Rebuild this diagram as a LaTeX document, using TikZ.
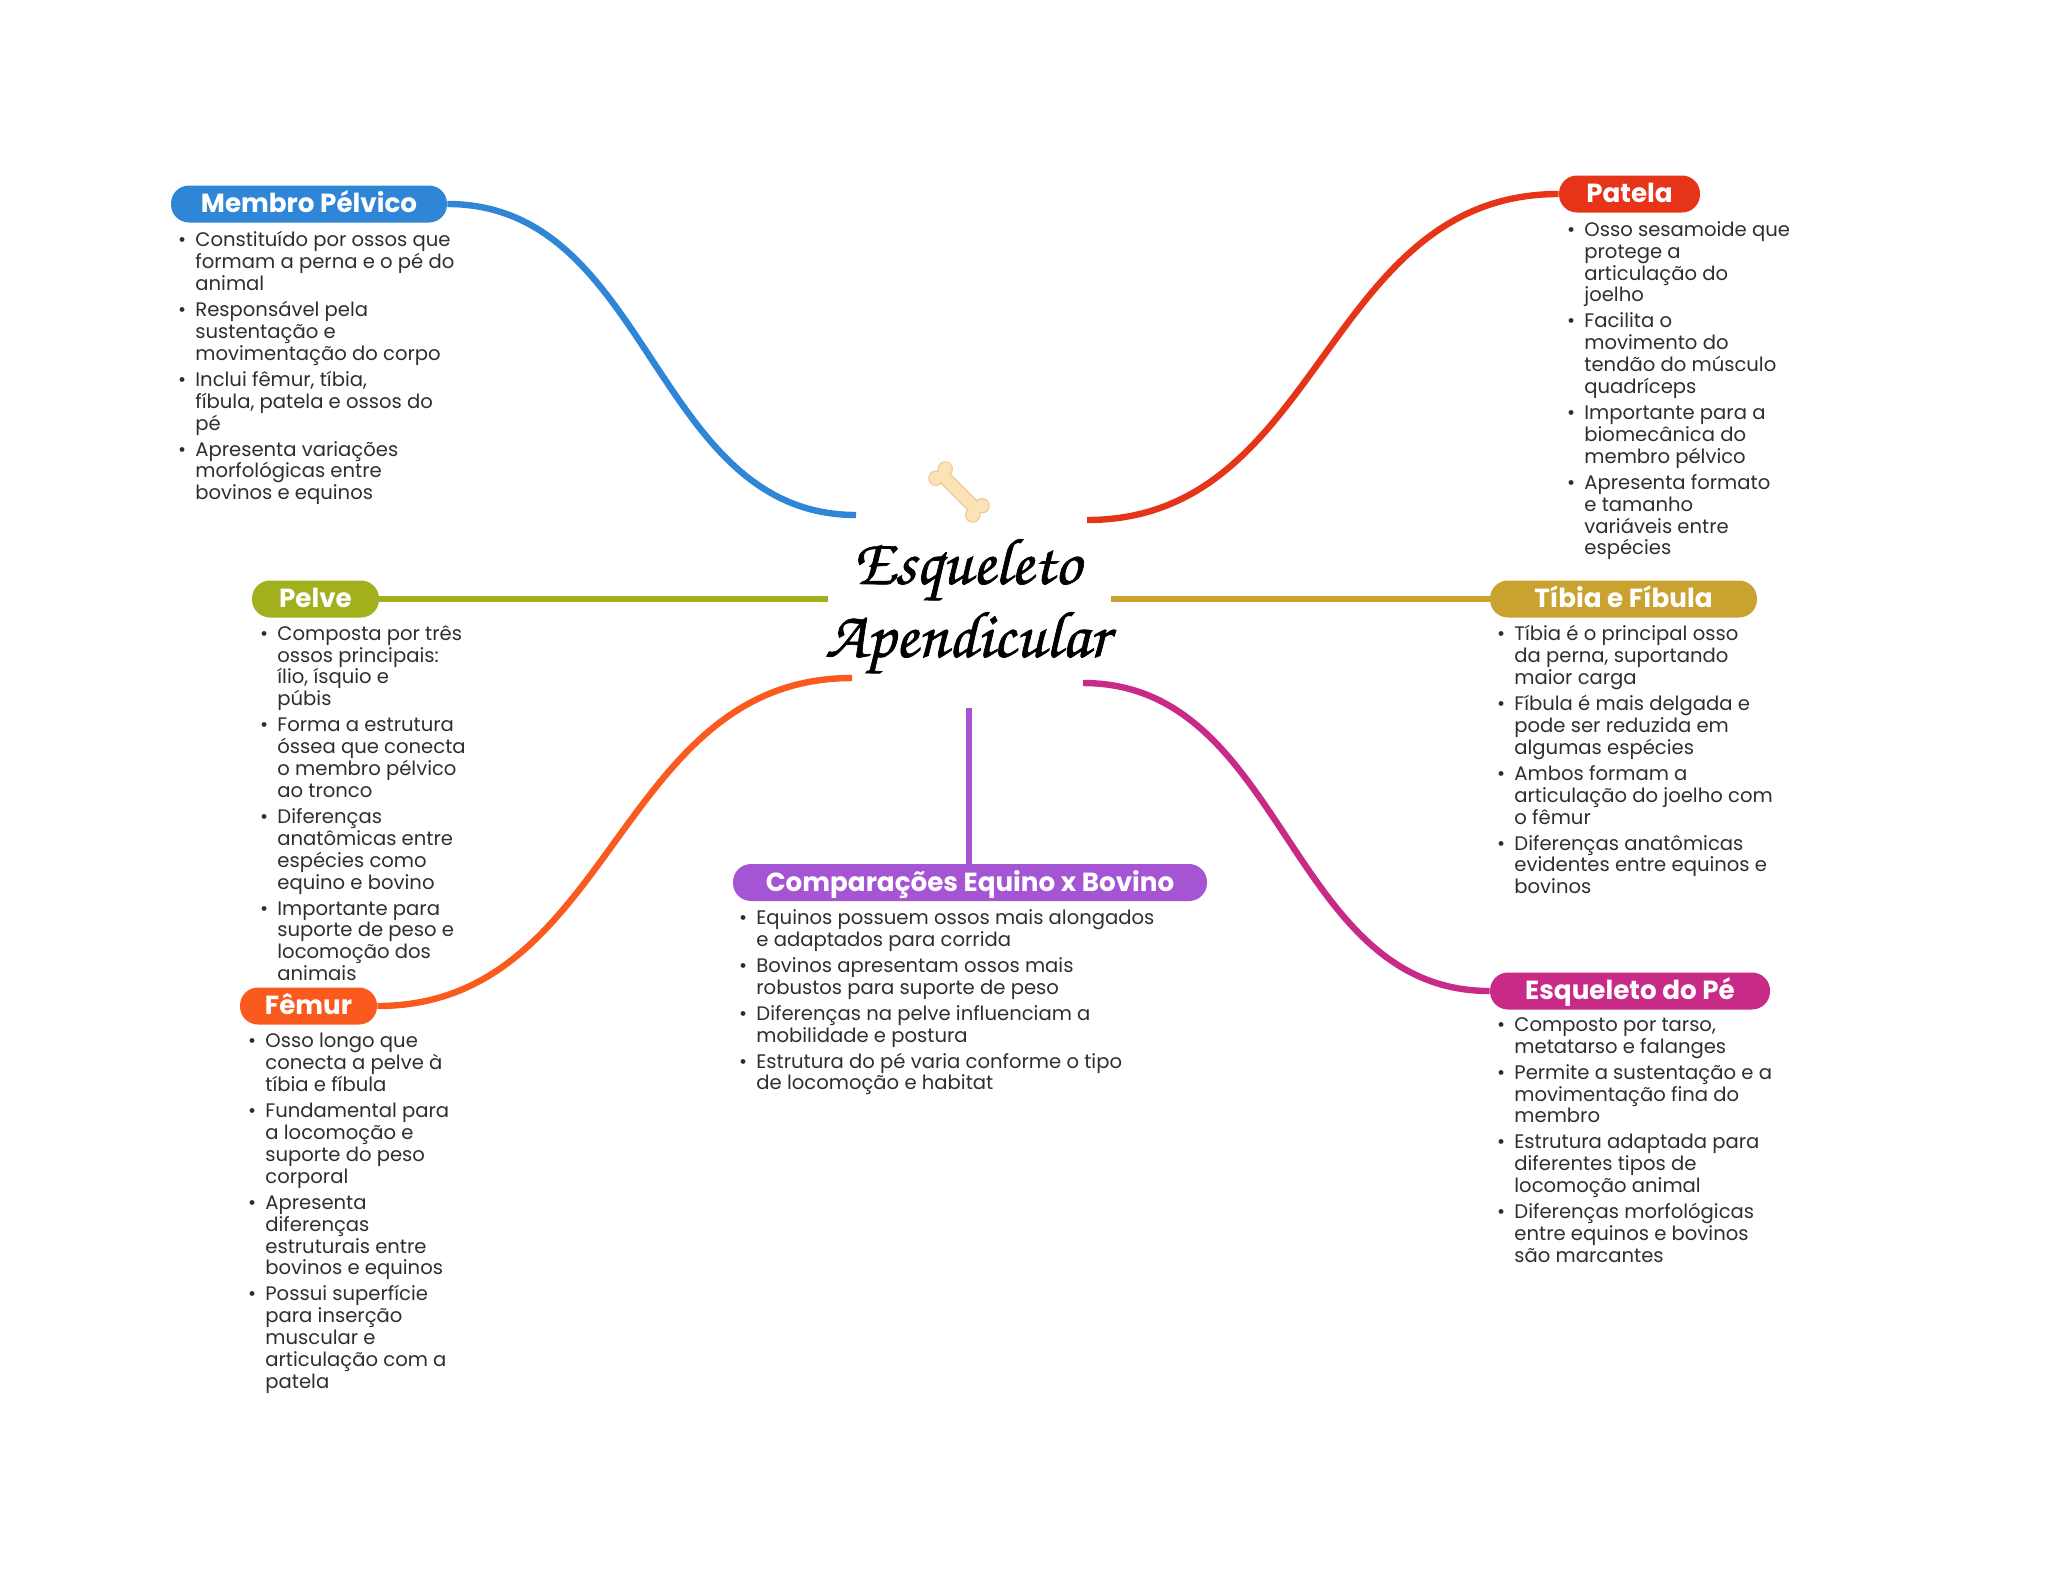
\documentclass[tikz,border=0pt]{standalone}
\usepackage[T1,TU]{fontenc}
\usepackage{fontspec}
\setmainfont{Poppins}
\usetikzlibrary{
  calc, % For coordinate calculations
  arrows.meta
}
\definecolor{cblue}{HTML}{2F86D6}
\definecolor{cred}{HTML}{E63419}
\definecolor{colive}{HTML}{A2B01E}
\definecolor{cgold}{HTML}{C9A22F}
\definecolor{corange}{HTML}{FB5A1F}
\definecolor{cmagenta}{HTML}{C82A88}
\definecolor{cpurple}{HTML}{A555D4}
\definecolor{ctext}{HTML}{2E2E2E}
\definecolor{bonefill}{HTML}{FCE3B6}
\definecolor{boneline}{HTML}{EFC48F}
\newcommand{\blt}{\llap{•\hspace{4.6pt}}}

\begin{document}
\begin{tikzpicture}[
      x=0.5pt, y=-0.5pt, % Pixels of the reference
      pill/.style={rounded corners=9pt, minimum height=18.5pt, inner sep=0pt,
        text height=10pt, text depth=1.5pt,
        text=white, font=\fontsize{13.1}{14}\selectfont\bfseries},
      notes/.style={anchor=north west, align=left, inner sep=0pt, text=ctext,
        font=\fontsize{9.8}{10.93}\selectfont},
      branch/.style={line width=3.2pt},
      bonepart/.style={fill=bonefill, draw=boneline, line width=0.5pt},
      title/.style={align=center, inner sep=0pt,
        font=\fontencoding{T1}\fontfamily{pzc}\fontseries{mb}\fontshape{it}\fontsize{33}{36.5}\selectfont},
    ]
    \useasboundingbox (0,0) rectangle (2048,1569);

    % Centre
    \node[title] (title) at (967,607) {\special{pdf:code 2 Tr 0.35 w}Esqueleto\\\special{pdf:code 2 Tr 0.35 w}Apendicular\special{pdf:code 0 Tr}};

    % Free ends of the connectors
    \coordinate (cmembro) at (856,515);
    \coordinate (cpatela) at (1087,520);
    \coordinate (cpelve) at (828,599);
    \coordinate (ctibia) at (1111,599);
    \coordinate (cfemur) at (852,678);
    \coordinate (cpe) at (1083,683);
    \coordinate (ccomp) at (969,708);

    % Bone
    \begin{scope}[shift={(959,492)}, rotate=-45]
      \foreach \a/\b in {-26/-6.5, -26/6.5, 26/-6.5, 26/6.5}
      \draw[bonepart] (\a,\b) circle (3.6pt);
      \fill[bonefill] (-29,-6.5) rectangle (29,6.5);
      \draw[boneline, line width=0.5pt] (-20,-6.5) -- (20,-6.5) (-20,6.5) -- (20,6.5);
    \end{scope}

    % Topics
    \node[pill, fill=cblue, minimum width=138pt] (membro) at (309,204) {Membro Pélvico};
    \node[pill, fill=cred, minimum width=70.5pt] (patela) at (1629.5,194) {Patela};
    \node[pill, fill=colive, minimum width=63.5pt] (pelve) at (315.5,599) {Pelve};
    \node[pill, fill=cgold, minimum width=133.5pt] (tibia) at (1623.5,599) {Tíbia e Fíbula};
    \node[pill, fill=corange, minimum width=68.5pt] (femur) at (308.5,1006) {Fêmur};
    \node[pill, fill=cmagenta, minimum width=140pt] (pe) at (1630,991) {Esqueleto do Pé};
    \node[pill, fill=cpurple, minimum width=237pt] (comp) at (970,882.5) {Comparações Equino x Bovino};

    % Connectors
    \draw[branch, cblue] (membro.east) .. controls +(204,0) and +(-204,0) .. (cmembro);
    \draw[branch, cred] (cpatela) .. controls +(236,0) and +(-236,0) .. (patela.west);
    \draw[branch, colive] (pelve.east) -- (cpelve);
    \draw[branch, cgold] (ctibia) -- (tibia.west);
    \draw[branch, corange] (femur.east) .. controls +(237,0) and +(-237,0) .. (cfemur);
    \draw[branch, cmagenta] (cpe) .. controls +(203,0) and +(-203,0) .. (pe.west);
    \draw[branch, cpurple] (ccomp) -- (ccomp |- comp.north);

    % Notes
    \node[notes] (membronotes) at (195,231) {\blt Constituído por ossos que\\formam a perna e o pé do\\animal\\[2.1pt]
      \blt Responsável pela\\sustentação e\\movimentação do corpo\\[2.1pt]
      \blt Inclui fêmur, tíbia,\\fíbula, patela e ossos do\\pé\\[2.1pt]
      \blt Apresenta variações\\morfológicas entre\\bovinos e equinos};
    \node[notes] (patelanotes) at (1584,221) {\blt Osso sesamoide que\\protege a\\articulação do\\joelho\\[2.1pt]
      \blt Facilita o\\movimento do\\tendão do músculo\\quadríceps\\[2.1pt]
      \blt Importante para a\\biomecânica do\\membro pélvico\\[2.1pt]
      \blt Apresenta formato\\e tamanho\\variáveis entre\\espécies};
    \node[notes] (pelvenotes) at (277,625) {\blt Composta por três\\ossos principais:\\ílio, ísquio e\\púbis\\[2.1pt]
      \blt Forma a estrutura\\óssea que conecta\\o membro pélvico\\ao tronco\\[2.1pt]
      \blt Diferenças\\anatômicas entre\\espécies como\\equino e bovino\\[2.1pt]
      \blt Importante para\\suporte de peso e\\locomoção dos\\animais};
    \node[notes] (tibianotes) at (1514,625) {\blt Tíbia é o principal osso\\da perna, suportando\\maior carga\\[2.1pt]
      \blt Fíbula é mais delgada e\\pode ser reduzida em\\algumas espécies\\[2.1pt]
      \blt Ambos formam a\\articulação do joelho com\\o fêmur\\[2.1pt]
      \blt Diferenças anatômicas\\evidentes entre equinos e\\bovinos};
    \node[notes] (femurnotes) at (265,1033) {\blt Osso longo que\\conecta a pelve à\\tíbia e fíbula\\[2.1pt]
      \blt Fundamental para\\a locomoção e\\suporte do peso\\corporal\\[2.1pt]
      \blt Apresenta\\diferenças\\estruturais entre\\bovinos e equinos\\[2.1pt]
      \blt Possui superfície\\para inserção\\muscular e\\articulação com a\\patela};
    \node[notes] (penotes) at (1514,1017) {\blt Composto por tarso,\\metatarso e falanges\\[2.1pt]
      \blt Permite a sustentação e a\\movimentação fina do\\membro\\[2.1pt]
      \blt Estrutura adaptada para\\diferentes tipos de\\locomoção animal\\[2.1pt]
      \blt Diferenças morfológicas\\entre equinos e bovinos\\são marcantes};
    \node[notes] (compnotes) at (756,909) {\blt Equinos possuem ossos mais alongados\\e adaptados para corrida\\[2.1pt]
      \blt Bovinos apresentam ossos mais\\robustos para suporte de peso\\[2.1pt]
      \blt Diferenças na pelve influenciam a\\mobilidade e postura\\[2.1pt]
      \blt Estrutura do pé varia conforme o tipo\\de locomoção e habitat};
  \end{tikzpicture}
\end{document}
